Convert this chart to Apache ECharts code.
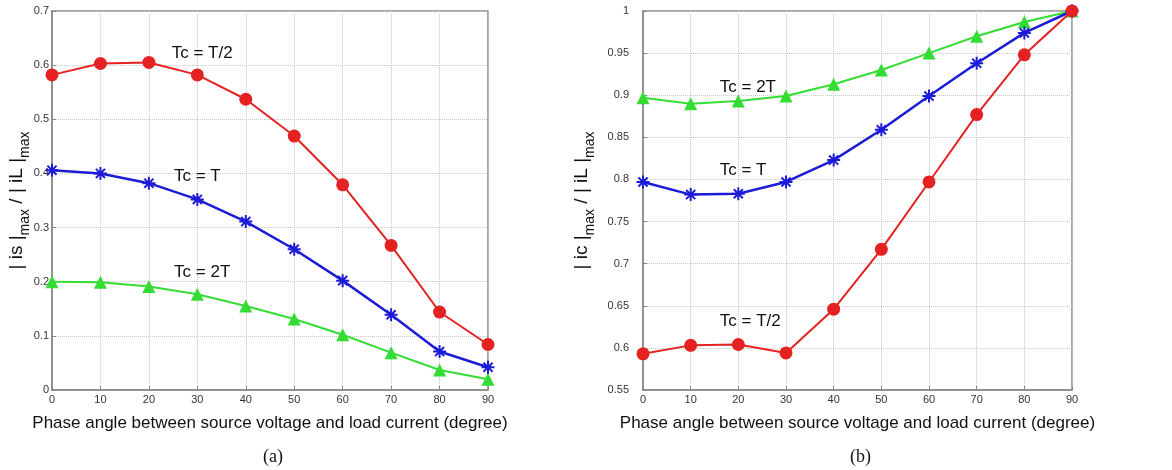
<!DOCTYPE html>
<html>
<head>
<meta charset="utf-8">
<script src="https://cdn.jsdelivr.net/npm/echarts@6/dist/echarts.min.js"></script>
<style>
html, body { margin: 0; padding: 0; background: #fff; }
#container { width: 1172px; height: 470px; }
</style>
</head>
<body>
<div id="container"></div>
<script>
// phase angle (degree)
var angles = ['0', '10', '20', '30', '40', '50', '60', '70', '80', '90'];

// (a) | is |max / | iL |max
var isHalf = [0.582, 0.603, 0.605, 0.582, 0.537, 0.469, 0.379, 0.267, 0.144, 0.084];
var isOne  = [0.406, 0.400, 0.382, 0.352, 0.311, 0.260, 0.202, 0.139, 0.071, 0.042];
var isTwo  = [0.200, 0.199, 0.191, 0.177, 0.155, 0.131, 0.102, 0.069, 0.037, 0.020];

// (b) | ic |max / | iL |max
var icHalf = [0.593, 0.603, 0.604, 0.594, 0.646, 0.717, 0.797, 0.877, 0.948, 1.000];
var icOne  = [0.797, 0.782, 0.783, 0.797, 0.823, 0.859, 0.899, 0.938, 0.974, 1.000];
var icTwo  = [0.897, 0.890, 0.893, 0.899, 0.913, 0.930, 0.950, 0.970, 0.987, 1.000];

// curve labels [grid, angle, value, text]
var notes = [
    [0, 31, 0.622, 'Tc = T/2'],
    [0, 30, 0.395, 'Tc = T'],
    [0, 31, 0.218, 'Tc = 2T'],
    [1, 22, 0.9095, 'Tc = 2T'],
    [1, 21, 0.811, 'Tc = T'],
    [1, 22.5, 0.632, 'Tc = T/2']
];

var RED = '#e52222', BLUE = '#1c1cd6', GREEN = '#33dd33';
var FONT = 'Liberation Sans, Arial, sans-serif';
var STAR = 'path://M0,-10L0,10M-10,0L10,0M-7,-7L7,7M-7,7L7,-7';

var dom = document.getElementById('container');
var myChart = echarts.init(dom);

function xAx(idx) {
    return {
        type: 'value', gridIndex: idx, min: 0, max: 90, interval: 10,
        name: 'Phase angle between source voltage and load current (degree)',
        nameLocation: 'middle', nameGap: 25, nameMoveOverlap: false,
        nameTextStyle: { fontFamily: FONT, fontSize: 17, color: '#111' },
        axisLine: { lineStyle: { color: '#888', width: 1.5 } },
        axisTick: { inside: true, length: 4, lineStyle: { color: '#888' } },
        axisLabel: { fontFamily: FONT, fontSize: 11, color: '#333', margin: 4 },
        splitLine: { lineStyle: { type: 'dotted', color: '#c8c8c8' } }
    };
}
function yAx(idx, min, max, step, top, gap, margin) {
    return {
        type: 'value', gridIndex: idx, min: min, max: max, interval: step,
        name: '{n|| ' + top + ' |}{s|max}{n| / | iL |}{s|max}',
        nameLocation: 'middle', nameGap: gap, nameMoveOverlap: false,
        nameTextStyle: {
            fontFamily: FONT, color: '#111',
            rich: {
                n: { fontFamily: FONT, fontSize: 19, color: '#111', verticalAlign: 'top', padding: [0, 0, 6, 0] },
                s: { fontFamily: FONT, fontSize: 14, color: '#111', verticalAlign: 'bottom' }
            }
        },
        axisLine: { show: true, lineStyle: { color: '#888', width: 1.5 } },
        axisTick: { show: true, inside: true, length: 4, lineStyle: { color: '#888' } },
        axisLabel: { fontFamily: FONT, fontSize: 11, color: '#333', margin: margin },
        splitLine: { lineStyle: { type: 'dotted', color: '#c8c8c8' } }
    };
}
function line(name, idx, data, color, symbol, size, width, z) {
    return {
        name: name, type: 'line', xAxisIndex: idx, yAxisIndex: idx,
        data: angles.map(function (a, i) { return [Number(a), data[i]]; }),
        symbol: symbol, symbolSize: size,
        lineStyle: { color: color, width: width },
        itemStyle: { color: color, borderColor: color, borderWidth: symbol === STAR ? 2 : 0 },
        z: z, animation: false
    };
}

option = {
    animation: false,
    grid: [
        { left: 52, right: 684, top: 11, bottom: 80, show: true, borderColor: '#888', borderWidth: 1.5, backgroundColor: '#fff' },
        { left: 643, right: 100, top: 11, bottom: 80, show: true, borderColor: '#888', borderWidth: 1.5, backgroundColor: '#fff' }
    ],
    xAxis: [xAx(0), xAx(1)],
    yAxis: [yAx(0, 0, 0.7, 0.1, 'is', 20, 3), yAx(1, 0.55, 1, 0.05, 'ic', 46, 14)],
    series: [
        line('2T', 0, isTwo, GREEN, 'triangle', 13, 2, 3),
        line('T', 0, isOne, BLUE, STAR, 13, 2.5, 4),
        line('T/2', 0, isHalf, RED, 'circle', 13, 2, 5),
        line('2T', 1, icTwo, GREEN, 'triangle', 13, 2, 3),
        line('T', 1, icOne, BLUE, STAR, 13, 2.5, 4),
        line('T/2', 1, icHalf, RED, 'circle', 13, 2, 5)
    ]
};
myChart.setOption(option, true);

// curve labels and (a)/(b) captions
var g = notes.map(function (n) {
    var p = myChart.convertToPixel({ gridIndex: n[0] }, [n[1], n[2]]);
    return {
        type: 'text', x: p[0], y: p[1], z: 10,
        style: { text: n[3], fontFamily: FONT, fontSize: 17, fill: '#111', align: 'center', verticalAlign: 'middle' }
    };
});
[[0, '(a)'], [1, '(b)']].forEach(function (c) {
    var p = myChart.convertToPixel({ gridIndex: c[0] }, [45, c[0] === 0 ? 0 : 0.55]);
    g.push({
        type: 'text', x: p[0] + 3, y: 457, z: 10,
        style: { text: c[1], fontFamily: 'Liberation Serif, Times New Roman, serif', fontSize: 18, fill: '#111', align: 'center', verticalAlign: 'middle' }
    });
});
myChart.setOption({ graphic: g });
</script>
</body>
</html>
